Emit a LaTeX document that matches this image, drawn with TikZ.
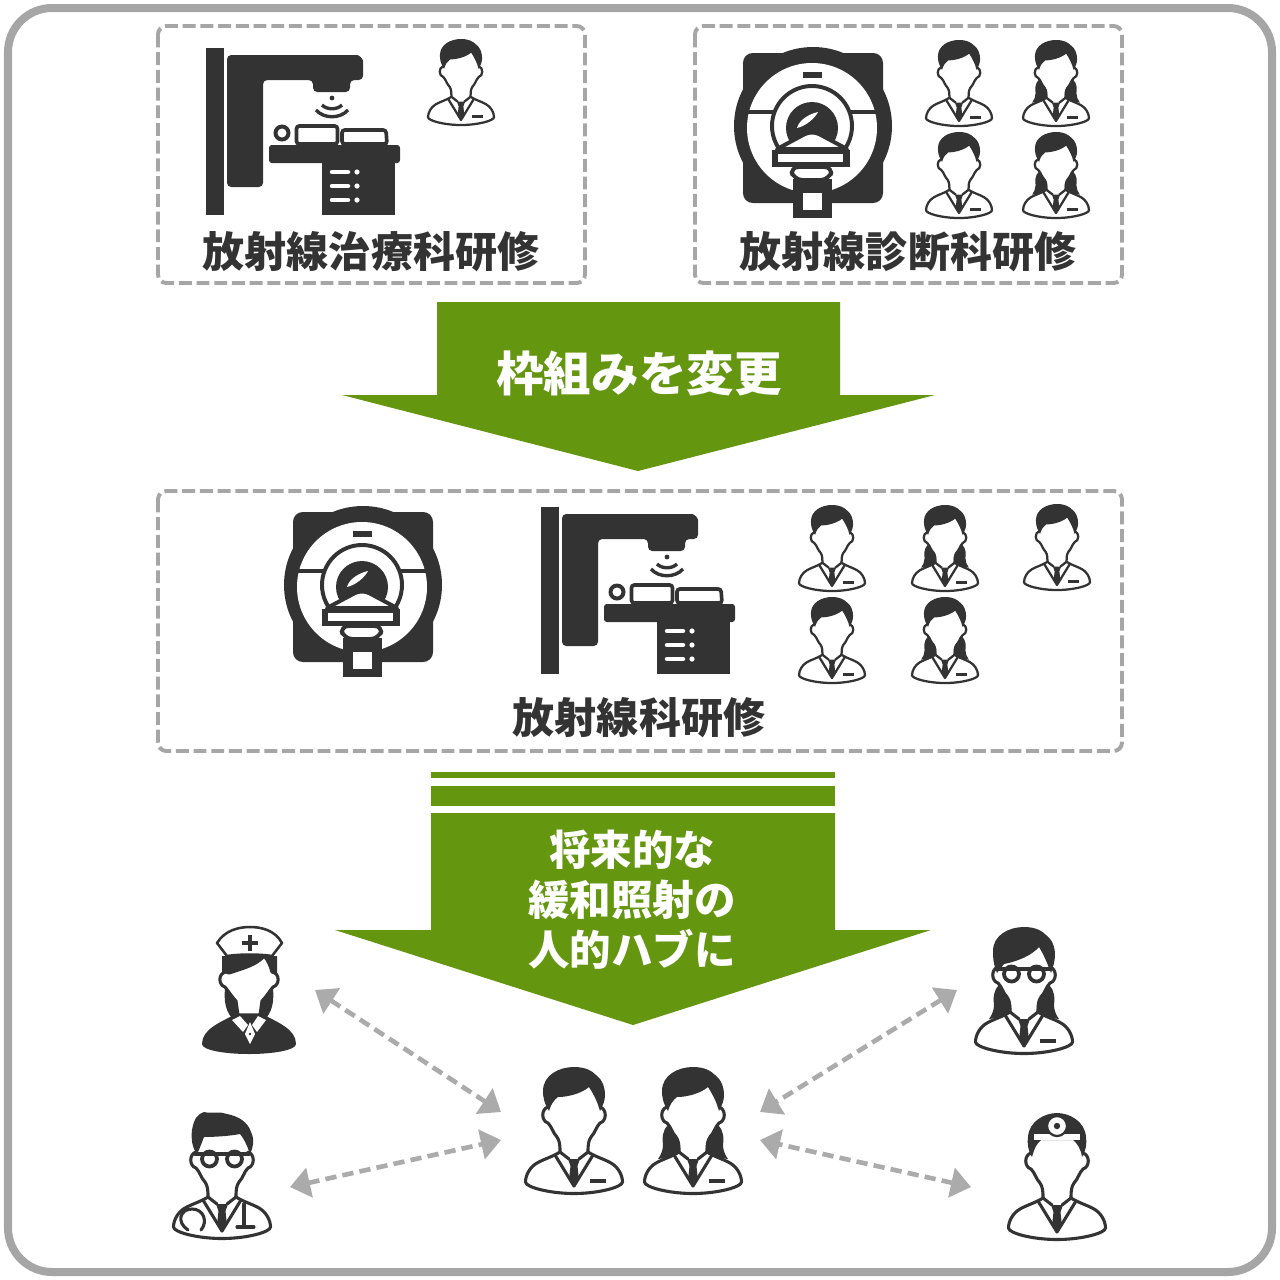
\documentclass[tikz,border=0pt]{standalone}
\usepackage{fontspec}
\newfontfamily\cjk{Noto Sans CJK JP}
\usepackage{xcolor}
\usepackage{tikz}
\usetikzlibrary{arrows.meta}
\definecolor{frame}{HTML}{A6A6A6}
\definecolor{leaf}{HTML}{64960F}
\definecolor{iconc}{HTML}{333333}
\definecolor{link}{HTML}{ABABAB}
\tikzset{
  dbox/.style={draw=frame,line width=2.8pt,dash pattern=on 9.2pt off 3.4pt,rounded corners=6pt},
  ifill/.style={fill=iconc,draw=none},
  iline/.style={draw=iconc,fill=white,line width=#1,line join=round,line cap=round},
  ititle/.style={font=\cjk\bfseries\fontsize{29.9}{34}\selectfont,text=iconc,inner sep=0pt},
  atitle/.style={font=\cjk\bfseries\fontsize{29.5}{35.6}\selectfont,text=white,inner sep=0pt,align=center},
  harr/.style={{Triangle[length=5mm,width=7.4mm]}-{Triangle[length=5mm,width=7.4mm]},
               draw=link,line width=3.3pt,dash pattern=on 8pt off 4.4pt},
}
\newcommand{\bust}[1]{
  \draw[iline=#1] (-26,40) .. controls (-33,42) and (-33,54) .. (-26,56)
    .. controls (-22,60) and (-21,66) .. (-17,70) .. controls (-14,74) and (-14,80) .. (-14,85)
    .. controls (-22,90) and (-30,92) .. (-37,96) .. controls (-44,100) and (-48.5,108) .. (-48.5,115)
    .. controls (-48.5,120) and (-25,126.5) .. (0,126.5) .. controls (25,126.5) and (48.5,120) .. (48.5,115)
    .. controls (48.5,108) and (44,100) .. (37,96) .. controls (30,92) and (22,90) .. (14,85)
    .. controls (14,80) and (14,74) .. (17,70) .. controls (21,66) and (22,60) .. (26,56)
    .. controls (33,54) and (33,42) .. (26,40);
  \draw[iline=#1,fill=none] (-14,85) -- (-5,92) (14,85) -- (5,92) (-19,88) -- (0,119) -- (19,88);
  \fill[ifill] (-6,92) -- (6,92) -- (3.5,99) -- (5,113) -- (0,120) -- (-5,113) -- (-3.5,99) -- cycle;
}
\newcommand{\pocket}[1]{\draw[iline=#1,line cap=butt] (16,114) -- (32,114);}
\newcommand{\hairtop}{
  \fill[ifill] (-25,44) .. controls (-30,36) and (-31,30) .. (-31,24) .. controls (-31,8) and (-15,0) .. (0,0)
    .. controls (12,0) and (18,4) .. (22,8) .. controls (28,12) and (31,20) .. (31,28)
    .. controls (31,34) and (29,38) .. (26,44) .. controls (24,36) and (20,28) .. (15,20)
    .. controls (8,26) and (-5,30) .. (-16,30) .. controls (-20,33) and (-23,37) .. (-25,44) -- cycle;
}
\newcommand{\lump}{
  \fill[ifill] (-25,58) .. controls (-31,64) and (-31,72) .. (-30,78) .. controls (-30,83) and (-32,88) .. (-35,92)
    .. controls (-28,91) and (-20,90) .. (-14,86) .. controls (-11,78) and (-14,72) .. (-17,68)
    .. controls (-20,65) and (-22,62) .. (-25,58) -- cycle;
}
\newcommand{\specs}[1]{
  \draw[iline=#1+0.5pt] (-12.5,47) circle (7.5) (12.5,47) circle (7.5);
  \draw[iline=#1+0.5pt,fill=none] (-27,42) -- (27,42);
}
\tikzset{
  pics/man/.style={code={\bust{#1}\pocket{#1}\hairtop}},
  pics/man/.default=2.2pt,
  pics/woman/.style={code={\bust{#1}\pocket{#1}\hairtop\lump
    \begin{scope}[xscale=-1]\lump\end{scope}}},
  pics/woman/.default=2.2pt,
  pics/specwoman/.style={code={\bust{#1}\pocket{#1}
    \fill[ifill] (-27,46) .. controls (-31,36) and (-31,30) .. (-31,24) .. controls (-31,8) and (-15,0) .. (0,0)
      .. controls (12,0) and (18,4) .. (22,8) .. controls (28,12) and (31,20) .. (31,28)
      .. controls (31,34) and (29,40) .. (27,46) .. controls (24,38) and (20,28) .. (15,20)
      .. controls (8,28) and (-5,34) .. (-20,37) -- cycle;
    \lump\begin{scope}[xscale=-1]\lump\end{scope}\specs{#1}}},
  pics/doctor/.style={code={\bust{#1}
    \fill[ifill] (-25,42) .. controls (-30,36) and (-31,26) .. (-30,18) .. controls (-28,6) and (-24,2) .. (-18,0)
      .. controls (-10,2) and (-2,-1) .. (5,2) .. controls (16,4) and (26,10) .. (29,20)
      .. controls (33,28) and (31,36) .. (28,42) .. controls (26,36) and (23,28) .. (18,22)
      .. controls (8,24) and (-8,25) .. (-18,25) .. controls (-20,30) and (-22,36) .. (-25,42) -- cycle;
    \specs{#1}
    \draw[iline=#1,fill=none] (-34,118) .. controls (-46,110) and (-42,97) .. (-30,97)
      .. controls (-18,97) and (-14,110) .. (-21,118);
    \draw[iline=#1] (22,92) -- (22,115) (15,115) -- (32,115);}},
  pics/mirrorman/.style={code={\bust{#1}
    \fill[ifill] (-25,44) .. controls (-29,38) and (-30,30) .. (-29,24) .. controls (-28,8) and (-12,0) .. (0,0)
      .. controls (12,0) and (28,8) .. (29,24) .. controls (30,30) and (29,38) .. (25,44)
      .. controls (24,36) and (20,30) .. (16,27) -- (-16,27) .. controls (-20,30) and (-23,36) .. (-25,44) -- cycle;
    \fill[white] (-23,21) rectangle (23,27);
    \draw[iline=1.6pt] (0,13) circle (10);
    \fill[ifill] (0,13) circle (3.2);}},
  pics/nurse/.style={code={
    \fill[ifill] (-15,88) .. controls (-28,95) and (-47,102) .. (-47,117) .. controls (-47,123) and (-25,127) .. (0,127)
      .. controls (25,127) and (47,123) .. (47,117) .. controls (47,102) and (28,95) .. (15,88) -- cycle;
    \fill[ifill] (-27,29) -- (28,29) -- (28,50) -- (24,62) .. controls (25,72) and (24,82) .. (18,90)
      -- (-18,90) .. controls (-24,82) and (-25,72) .. (-24,62) -- (-27,50) -- cycle;
    \draw[iline=#1] (-23,45) .. controls (-31,46) and (-31,58) .. (-24,60)
      .. controls (-20,65) and (-17,70) .. (-13,74) -- (-11,88) -- (11,88) -- (13,74)
      .. controls (17,70) and (20,65) .. (24,60) .. controls (31,58) and (31,46) .. (23,45)
      .. controls (21,38) and (19,33) .. (15,29) .. controls (8,38) and (-8,42) .. (-20,46) -- cycle;
    \fill[white] (-17,93) -- (-9,89) -- (-1,98) -- (-6,105) -- cycle (17,93) -- (9,89) -- (3,98) -- (8,105) -- cycle;
    \fill[white] (1,95) -- (6,107) -- (1,117) -- (-4,107) -- cycle;
    \fill[ifill] (1,107) circle (1.4);
    \draw[iline=1.8pt] (-32,16) .. controls (-24,3) and (-10,0) .. (1,0) .. controls (12,0) and (26,3) .. (33,16)
      -- (23,29) .. controls (10,27) and (-8,27) .. (-22,29) -- cycle;
    \draw[draw=iconc,line width=2.8pt] (-7,16) -- (9,16) (1,8) -- (1,24);}},
  pics/linac/.style={code={
    \fill[ifill] (0,0) rectangle (18,167);
    \fill[ifill,rounded corners=3] (21,7) -- (147,7) .. controls (153,7) and (157,11) .. (157,17) -- (157,32) -- (144,32)
      -- (144,44) -- (107,44) -- (107,32) -- (57,32) -- (57,139) -- (21,139) -- cycle;
    \fill[ifill] (126,50) circle (2.4);
    \draw[iconc,line width=2.4pt] (116,57) .. controls (121,62) and (131,62) .. (136,57);
    \draw[iconc,line width=2.4pt] (110,62) .. controls (118,71) and (134,71) .. (142,62);
    \draw[iconc,line width=2.8pt] (76,85) circle (6.5);
    \draw[iconc,line width=2.6pt,rounded corners=2] (90.5,96) -- (90.5,78) -- (131.5,78) -- (131.5,96) -- cycle;
    \draw[iconc,line width=2.6pt,rounded corners=2] (136,96) -- (136,82) -- (180,82) -- (181,96) -- cycle;
    \fill[ifill,rounded corners=2] (63,97) rectangle (194,115);
    \fill[ifill] (116,114) rectangle (189,167);
    \foreach \y in {124,138,152}{
      \draw[white,line width=3.2pt,line cap=round] (126,\y) -- (142,\y);
      \fill[white] (151,\y) circle (2.6);}}},
  pics/mri/.style={code={
    \fill[ifill] (0,0) circle (79);
    \fill[ifill,rounded corners=7] (-70,-73) rectangle (70,77);
    \fill[white] (-1,2) circle (65);
    \fill[ifill] (-10,-54) rectangle (9,-48);
    \draw[iconc,line width=2.8pt] (-65,-14) -- (63,-14);
    \draw[iline=2.8pt] (-1,0) circle (40);
    \fill[ifill] (-1,2) circle (26);
    \fill[white] (-16,2) .. controls (-14,-6) and (-4,-12) .. (5,-14) .. controls (2,-8) and (-7,0) .. (-16,2) -- cycle;
    \draw[iline=2.8pt] (-36,23) -- (-8,8) .. controls (-3,6) and (1,6) .. (6,8) -- (34,23) -- cycle;
    \fill[ifill] (-41,24) rectangle (37,41);
    \fill[white] (-35,28) rectangle (30,36);
    \draw[iline=2.8pt,rounded corners=6] (-23,41) -- (-19,54) -- (16,54) -- (20,41) -- cycle;
    \fill[ifill] (-20,53) rectangle (19,92);
    \fill[white] (-10,67) rectangle (9,84);}},
}
\begin{document}
\begin{tikzpicture}[x=0.25mm,y=-0.25mm]
  \useasboundingbox (0,0) rectangle (1280,1280);
  \fill[white] (0,0) rectangle (1280,1280);
  \draw[frame,line width=2mm,rounded corners=11mm] (8,8) rectangle (1272,1272);
  \draw[dbox] (158,26) rectangle (585,283);
  \draw[dbox] (695,26) rectangle (1122,283);
  \draw[dbox] (158,491) rectangle (1122,751);

  \pic at (206,48) {linac};
  \pic at (813,126) {mri};
  \pic at (363,585) {mri};
  \pic at (541,507) {linac};
  \foreach \x/\y in {461/39, 959/40, 959/132, 832/505, 1057/504, 832/597}{
    \pic[scale=0.68] at (\x,\y) {man=1.6pt};}
  \foreach \x/\y in {1056/40, 1056/132, 945/505, 945/597}{
    \pic[scale=0.68] at (\x,\y) {woman=1.6pt};}

  \node[ititle] (rttitle) at (371,252) {放射線治療科研修};
  \node[ititle] (drtitle) at (908,252) {放射線診断科研修};
  \node[ititle] (radtitle) at (639,718) {放射線科研修};

  \fill[leaf] (437,302) -- (840,302) -- (840,395) -- (935,395) -- (638,471) -- (342,395) -- (437,395) -- cycle;
  \node[atitle,font=\cjk\bfseries\fontsize{33.8}{38}\selectfont] (change) at (639,373) {枠組みを変更};

  \fill[leaf] (431,772) rectangle (835,778);
  \fill[leaf] (431,786) rectangle (835,806);
  \fill[leaf] (431,813) -- (835,813) -- (835,930) -- (931,930) -- (633,1025) -- (335,930) -- (431,930) -- cycle;
  \node[atitle] (hubtitle) at (632,900) {将来的な\\緩和照射の\\人的ハブに};

  \pic at (574,1067) {man};
  \pic at (693,1067) {woman};
  \pic at (249,927) {nurse=2.2pt};
  \pic at (222,1112) {doctor=2.2pt};
  \pic at (1024,927) {specwoman=2.2pt};
  \pic at (1057,1113) {mirrorman=2.2pt};

  \coordinate (nurseend) at (315,990);
  \coordinate (doctorend) at (290,1187);
  \coordinate (specend) at (957,990);
  \coordinate (mirrorend) at (971,1187);
  \coordinate (hubnw) at (501,1112);
  \coordinate (hubw) at (501,1140);
  \coordinate (hubne) at (760,1112);
  \coordinate (hube) at (760,1140);
  \draw[harr] (nurseend) -- (hubnw);
  \draw[harr] (doctorend) -- (hubw);
  \draw[harr] (specend) -- (hubne);
  \draw[harr] (mirrorend) -- (hube);
\end{tikzpicture}
\end{document}
